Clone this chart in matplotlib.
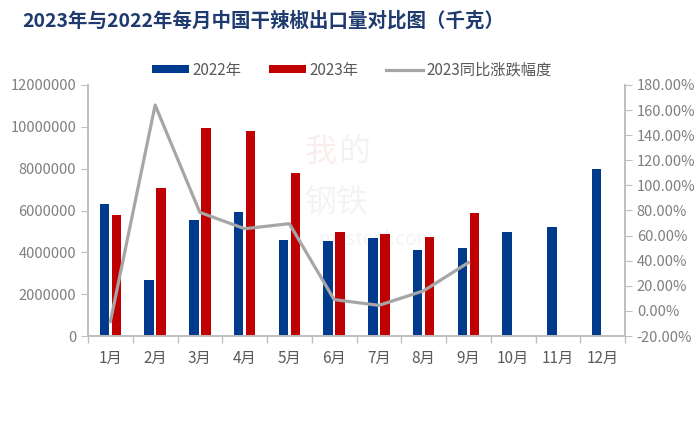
import matplotlib.pyplot as plt
import numpy as np
from matplotlib.ticker import FuncFormatter, MultipleLocator

plt.rcParams['font.family'] = ['Noto Sans CJK SC', 'DejaVu Sans']

months = ['1月', '2月', '3月', '4月', '5月', '6月', '7月', '8月', '9月', '10月', '11月', '12月']
vol_2022 = [6310000, 2680000, 5550000, 5910000, 4590000, 4560000, 4690000, 4100000, 4210000, 4970000, 5200000, 8000000]
vol_2023 = [5780000, 7060000, 9930000, 9800000, 7790000, 4970000, 4890000, 4720000, 5880000]
yoy_2023 = [-8.5, 164.0, 78.5, 65.5, 69.5, 9.0, 4.4, 16.0, 38.5]

blue = '#003A8C'
red = '#C00000'
grey_line = '#A6A6A6'
axis_col = '#BFBFBF'
text_col = '#7F7F7F'

fig = plt.figure(figsize=(7, 4.21), dpi=100)
ax = fig.add_axes([88/700, 1-336/421, (625-88)/700, (336-85)/421])

# faint site watermark behind the bars
fig.text(305/700, 1-152/421, '我', fontsize=23, color='#C00000', alpha=0.07, ha='left', va='center', zorder=0)
fig.text(338/700, 1-152/421, '的', fontsize=23, color='#1F3A6E', alpha=0.06, ha='left', va='center', zorder=0)
fig.text(305/700, 1-203/421, '钢铁', fontsize=23, color='#1F3A6E', alpha=0.06, ha='left', va='center', zorder=0)
fig.text(318/700, 1-240/421, 'mysteel.com', fontsize=14, color='#1F3A6E', alpha=0.05, ha='left', va='center', zorder=0)

x = np.arange(len(months))
w = 0.21
off = 0.135
b1 = ax.bar(x - off, vol_2022, width=w, color=blue, label='2022年')
b2 = ax.bar(x[:len(vol_2023)] + off, vol_2023, width=w, color=red, label='2023年')
ax.patch.set_alpha(0)

ax.set_xlim(-0.5, len(months) - 0.5)
ax.set_ylim(0, 12000000)
ax.yaxis.set_major_locator(MultipleLocator(2000000))
ax.yaxis.set_major_formatter(FuncFormatter(lambda v, p: f'{int(v)}'))
ax.set_xticks(x)
ax.set_xticklabels(months)
ax.set_xticks(np.arange(-0.5, len(months), 1), minor=True)
ax.tick_params(axis='x', which='major', length=0, pad=10, labelsize=11, labelcolor='#595959')
ax.tick_params(axis='x', which='minor', length=5, color=axis_col, width=1)
ax.tick_params(axis='y', length=5, color=axis_col, labelsize=10.5, labelcolor=text_col)

ax2 = ax.twinx()
ln, = ax2.plot(x[:len(yoy_2023)], np.array(yoy_2023) / 100, color=grey_line, lw=2.3, label='2023同比涨跌幅度')
ax2.set_ylim(-0.2, 1.8)
ax2.yaxis.set_major_locator(MultipleLocator(0.2))
ax2.yaxis.set_major_formatter(FuncFormatter(lambda v, p: f'{v*100:.2f}%'))
ax2.tick_params(axis='y', length=5, color=axis_col, labelsize=10.5, labelcolor=text_col)

for a in (ax, ax2):
    a.spines['top'].set_visible(False)
    for s in ('left', 'right', 'bottom'):
        a.spines[s].set_color(axis_col)
        a.spines[s].set_linewidth(1.2)

fig.text(22/700, 1-21/421, '2023年与2022年每月中国干辣椒出口量对比图（千克）',
         fontsize=14, fontweight='bold', color='#1F3A6E', va='center', ha='left')

fig.legend([b1, b2, ln], ['2022年', '2023年', '2023同比涨跌幅度'], loc='center',
           bbox_to_anchor=(352/700, 1-70/421), ncol=3, frameon=False, fontsize=11,
           labelcolor='#595959', handlelength=2.4, handleheight=0.5, columnspacing=1.8,
           handletextpad=0.25)

fig.savefig('out.png', dpi=100, facecolor='white')
